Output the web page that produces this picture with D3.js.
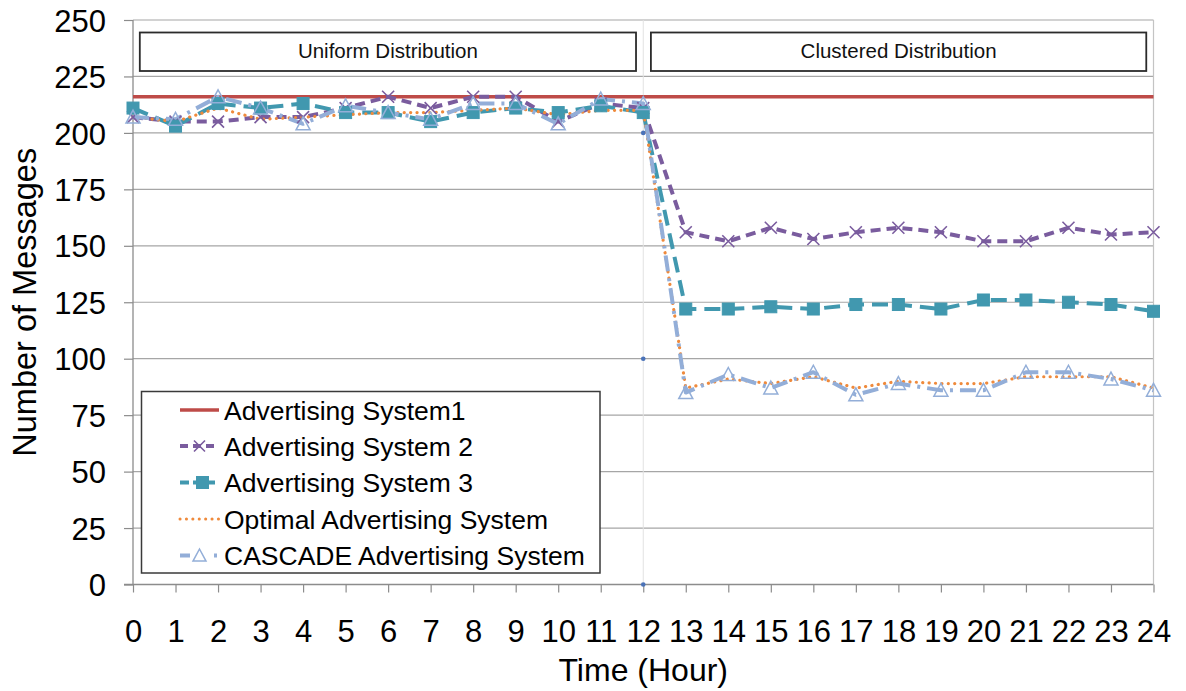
<!DOCTYPE html>
<html>
<head>
<meta charset="utf-8">
<script src="https://cdn.jsdelivr.net/npm/d3@7"></script>
<style>
  html, body { margin: 0; padding: 0; background: #fff; }
  svg { display: block; font-family: "Liberation Sans", Arial, sans-serif; }
</style>
</head>
<body>
<svg id="chart" width="1186" height="691"></svg>
<script>
// Hours of the day on the x axis
const hours = [0,1,2,3,4,5,6,7,8,9,10,11,12,13,14,15,16,17,18,19,20,21,22,23,24];
const yTicks = [0,25,50,75,100,125,150,175,200,225,250];

// Messages per hour for each advertising scheme
const system1 = [216,216,216,216,216,216,216,216,216,216,216,216,216,216,216,216,216,216,216,216,216,216,216,216,216];
const system2 = [207,205,205,207,207,211,216,211,216,216,205,213,211,156,152,158,153,156,158,156,152,152,158,155,156];
const system3 = [211,203,213,211,213,209,209,205,209,211,209,212,209,122,122,123,122,124,124,122,126,126,125,124,121];
const optimal = [207,205,211,206,207,208,209,209,210,211,208,210,210,87,91,89,92,87,90,89,89,92,92,92,87];
const cascade = [207,206,216,211,204,212,209,206,213,213,204,215,213,85,93,87,94,84,89,86,86,94,94,91,86];

// Divider markers at the switch between distributions
const dividerX = [12,12,12];
const dividerY = [200,100,0];

const regions = ["Uniform Distribution", "Clustered Distribution"];
const regionSpans = [[0.16, 11.83], [12.18, 23.83]];

const seriesNames = ["Advertising System1","Advertising System 2","Advertising System 3","Optimal Advertising System","CASCADE Advertising System"];

const C = {
  s1: "#BE4B48",
  s2: "#7A5C9E",
  s3: "#4198AF",
  opt: "#EF8A3C",
  cas: "#93AED8",
  div: "#4A72B8"
};

const svg = d3.select("#chart");
const x = d3.scaleLinear().domain([0, 24]).range([133, 1153.5]);
const y = d3.scaleLinear().domain([0, 250]).range([584.5, 20]);

// Horizontal gridlines
svg.append("g").selectAll("line").data(yTicks.filter(d => d > 0)).join("line")
  .attr("x1", x(0)).attr("x2", x(24))
  .attr("y1", d => y(d)).attr("y2", d => y(d))
  .attr("stroke", "#a6a6a6").attr("stroke-width", 1.2);

// Right border of plot area
svg.append("line").attr("x1", x(24)).attr("x2", x(24)).attr("y1", y(250)).attr("y2", y(0))
  .attr("stroke", "#c4c4c4").attr("stroke-width", 1.2);

// Faint divider at hour 12
svg.append("line").attr("x1", x(12)).attr("x2", x(12)).attr("y1", y(250)).attr("y2", y(0))
  .attr("stroke", "#e2e2e2").attr("stroke-width", 1);

// Region boxes
const rg = svg.append("g");
regions.forEach((name, i) => {
  const [a, b] = regionSpans[i];
  rg.append("rect").attr("x", x(a)).attr("y", 32.5).attr("width", x(b) - x(a)).attr("height", 38.5)
    .attr("fill", "#fff").attr("stroke", "#2b2b2b").attr("stroke-width", 1.8);
  rg.append("text").attr("x", (x(a) + x(b)) / 2).attr("y", 50.5).attr("dy", "0.35em")
    .attr("text-anchor", "middle").attr("font-size", 20.5).attr("fill", "#111").text(name);
});

// Axes
const xAxis = svg.append("g").attr("transform", `translate(0,${y(0)})`)
  .call(d3.axisBottom(x).tickValues(hours).tickSize(8).tickFormat(d3.format("d")));
xAxis.select(".domain").attr("stroke", "#8c8c8c").attr("stroke-width", 1.3)
  .attr("d", `M${x(0) - 9},0H${x(24)}`);
xAxis.selectAll(".tick line").attr("stroke", "#8c8c8c").attr("stroke-width", 1.2);
xAxis.selectAll(".tick text").attr("y", 57).attr("dy", 0)
  .attr("font-size", 31).attr("fill", "#000").attr("font-family", "Liberation Sans, Arial, sans-serif");

const yAxis = svg.append("g").attr("transform", `translate(${x(0)},0)`)
  .call(d3.axisLeft(y).tickValues(yTicks).tickSize(9));
yAxis.select(".domain").attr("stroke", "#8c8c8c").attr("stroke-width", 1.3)
  .attr("d", `M0,${y(0)}V${y(250)}`);
yAxis.selectAll(".tick line").attr("stroke", "#8c8c8c").attr("stroke-width", 1.2);
yAxis.selectAll(".tick text").attr("x", -27).attr("dy", "0.36em")
  .attr("font-size", 31).attr("fill", "#000").attr("font-family", "Liberation Sans, Arial, sans-serif");

// Axis titles
svg.append("text").attr("x", x(12)).attr("y", 681).attr("text-anchor", "middle")
  .attr("font-size", 32).attr("fill", "#000").text("Time (Hour)");
svg.append("text").attr("transform", `translate(36,${(y(0) + y(250)) / 2}) rotate(-90)`)
  .attr("text-anchor", "middle").attr("font-size", 32.5).attr("fill", "#000").text("Number of Messages");

// Series lines
const line = d3.line().x((d, i) => x(hours[i])).y(d => y(d));

const lines = svg.append("g").attr("fill", "none").attr("stroke-linejoin", "round");
lines.append("path").attr("d", line(system1)).attr("stroke", C.s1).attr("stroke-width", 3.5);
lines.append("path").attr("d", line(system2)).attr("stroke", C.s2).attr("stroke-width", 4)
  .attr("stroke-dasharray", "10,6");
lines.append("path").attr("d", line(system3)).attr("stroke", C.s3).attr("stroke-width", 4)
  .attr("stroke-dasharray", "16,8");
lines.append("path").attr("d", line(optimal)).attr("stroke", C.opt).attr("stroke-width", 3.2)
  .attr("stroke-dasharray", "0.1,6.3").attr("stroke-linecap", "round");
lines.append("path").attr("d", line(cascade)).attr("stroke", C.cas).attr("stroke-width", 4)
  .attr("stroke-dasharray", "16,7,3,7");

// Marker shapes
function xMark(g, cx, cy, s, color) {
  g.append("path").attr("d", `M${cx - s},${cy - s}L${cx + s},${cy + s}M${cx - s},${cy + s}L${cx + s},${cy - s}`)
    .attr("stroke", color).attr("stroke-width", 1.6).attr("fill", "none");
}
function sqMark(g, cx, cy, s, color) {
  g.append("rect").attr("x", cx - s).attr("y", cy - s).attr("width", 2 * s).attr("height", 2 * s)
    .attr("fill", color).attr("stroke", color).attr("stroke-width", 1);
}
function triMark(g, cx, cy, s, color) {
  g.append("path").attr("d", `M${cx},${cy - s}L${cx + s},${cy + s * 0.85}L${cx - s},${cy + s * 0.85}Z`)
    .attr("fill", "none").attr("stroke", color).attr("stroke-width", 1.5);
}

const marks = svg.append("g");
system2.forEach((v, i) => xMark(marks, x(hours[i]), y(v), 6, C.s2));
system3.forEach((v, i) => sqMark(marks, x(hours[i]), y(v), 6, C.s3));
cascade.forEach((v, i) => triMark(marks, x(hours[i]), y(v), 7, C.cas));

// Divider dots
svg.append("g").selectAll("circle").data(dividerY).join("circle")
  .attr("cx", (d, i) => x(dividerX[i])).attr("cy", d => y(d)).attr("r", 2.3).attr("fill", C.div);

// Legend
const lg = svg.append("g");
lg.append("rect").attr("x", 141.5).attr("y", 391.5).attr("width", 458.5).attr("height", 181.5)
  .attr("fill", "#fff").attr("stroke", "#3a3a3a").attr("stroke-width", 1.5);
const rowY = [410, 446, 482.5, 519, 555.5];
const sx0 = 180, sx1 = 219, scx = 199.5;
seriesNames.forEach((name, i) => {
  const cy = rowY[i];
  const row = lg.append("g");
  if (i === 0) {
    row.append("line").attr("x1", sx0).attr("x2", sx1).attr("y1", cy).attr("y2", cy)
      .attr("stroke", C.s1).attr("stroke-width", 3.5);
  } else if (i === 1) {
    row.append("line").attr("x1", sx0).attr("x2", sx1).attr("y1", cy).attr("y2", cy)
      .attr("stroke", C.s2).attr("stroke-width", 4).attr("stroke-dasharray", "8,5");
    xMark(row, scx, cy, 5.5, C.s2);
  } else if (i === 2) {
    row.append("line").attr("x1", sx0).attr("x2", sx1).attr("y1", cy).attr("y2", cy)
      .attr("stroke", C.s3).attr("stroke-width", 4).attr("stroke-dasharray", "9,4");
    sqMark(row, scx + 3, cy, 6, C.s3);
  } else if (i === 3) {
    row.append("line").attr("x1", sx0).attr("x2", sx1).attr("y1", cy).attr("y2", cy)
      .attr("stroke", C.opt).attr("stroke-width", 3).attr("stroke-dasharray", "0.1,6.3")
      .attr("stroke-linecap", "round");
  } else {
    row.append("line").attr("x1", sx0).attr("x2", sx1).attr("y1", cy).attr("y2", cy)
      .attr("stroke", C.cas).attr("stroke-width", 4).attr("stroke-dasharray", "10,24,3,10");
    triMark(row, scx, cy, 6.5, C.cas);
  }
  row.append("text").attr("x", 224).attr("y", cy).attr("dy", "0.36em")
    .attr("font-size", 26.5).attr("fill", "#000").text(name);
});
</script>
</body>
</html>
